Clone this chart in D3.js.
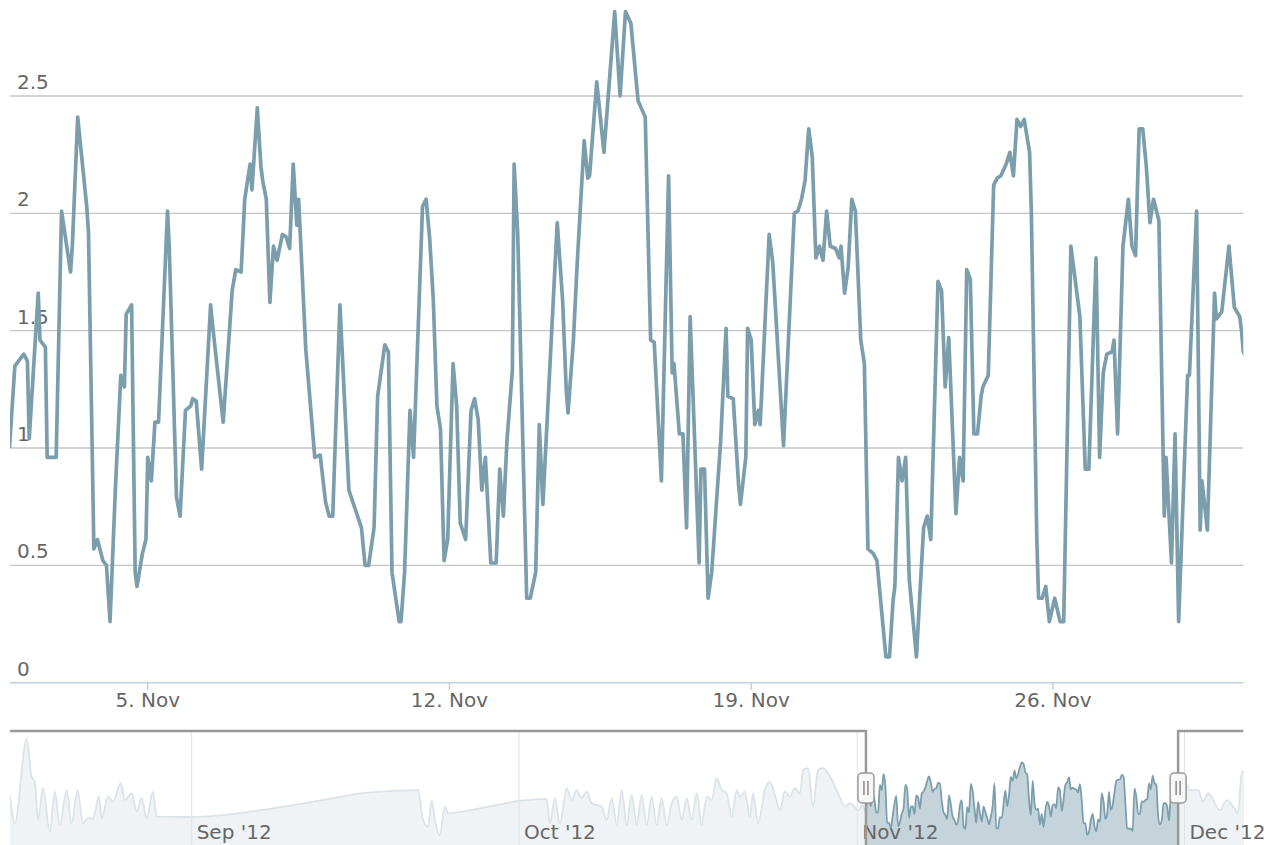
<!DOCTYPE html>
<html>
<head>
<meta charset="utf-8">
<script src="https://cdn.jsdelivr.net/npm/d3@7"></script>
<style>
  body { margin: 0; background: #fff; }
  svg { display: block; font-family: 'DejaVu Sans', Verdana, sans-serif; }
</style>
</head>
<body>
<div id="chart"></div>
<script>
// main series: hours after 1 Nov 2012 00:00 UTC and the reading at that hour
var hours = [
  19, 22, 23, 26, 27, 29, 30, 35, 36, 39,
  40, 45, 48, 53, 54, 57, 62, 63, 66, 68,
  71, 73, 75, 78, 81, 83, 84, 87, 89, 90,
  93, 95, 96, 98, 100, 102, 107, 108, 112, 114,
  117, 120, 121, 123, 126, 131, 132, 138, 143, 145,
  148, 150, 153, 154, 157, 159, 160, 162, 164, 166,
  168, 171, 173, 175, 177, 179, 180, 184, 189, 192,
  195, 197, 199, 203, 208, 215, 217, 219, 222, 224,
  228, 230, 232, 236, 237, 239, 242, 244, 249, 251,
  253, 255, 257, 259, 261, 263, 266, 268, 270, 273,
  276, 278, 280, 282, 284, 285, 287, 290, 292, 294,
  296, 299, 300, 302, 307, 309, 312, 314, 316, 324,
  327, 329, 330, 333, 335, 339, 341, 342, 346, 350,
  356, 359, 362, 365, 369, 373, 376, 378, 382, 386,
  388, 389, 392, 394, 396, 398, 403, 404, 406, 408,
  410, 415, 418, 419, 422, 425, 426, 429, 430, 432,
  433, 434, 436, 437, 442, 444, 450, 456, 458, 460,
  462, 464, 466, 468, 470, 472, 474, 476, 479, 481,
  482, 484, 486, 488, 490, 493, 495, 497, 500, 502,
  507, 509, 511, 512, 514, 516, 518, 520, 524, 526,
  528, 530, 532, 536, 538, 540, 542, 546, 548, 550,
  552, 554, 556, 558, 560, 561, 564, 567, 569, 571,
  574, 576, 578, 580, 582, 584, 587, 588, 591, 592,
  594, 596, 598, 601, 604, 606, 610, 615, 618, 620,
  624, 626, 628, 630, 633, 634, 636, 639, 642, 644,
  646, 648, 650, 652, 654, 656, 659, 662, 663, 666,
  668, 670, 675, 676, 680, 682, 683, 686, 690, 691,
  694, 698, 701, 704, 705, 706, 708
]
var values = [
  1.00, 1.35, 1.36, 1.39, 1.40, 1.37, 1.04, 1.66, 1.46, 1.43,
  0.96, 0.96, 2.01, 1.75, 1.86, 2.41, 2.03, 1.92, 0.57, 0.61,
  0.52, 0.50, 0.26, 0.83, 1.31, 1.26, 1.57, 1.61, 0.47, 0.41,
  0.55, 0.61, 0.96, 0.86, 1.11, 1.11, 2.01, 1.85, 0.79, 0.71,
  1.16, 1.18, 1.21, 1.20, 0.91, 1.61, 1.53, 1.11, 1.67, 1.76,
  1.75, 2.06, 2.21, 2.10, 2.45, 2.20, 2.14, 2.06, 1.62, 1.86,
  1.80, 1.91, 1.90, 1.85, 2.21, 1.95, 2.06, 1.42, 0.96, 0.97,
  0.77, 0.71, 0.71, 1.61, 0.82, 0.66, 0.50, 0.50, 0.66, 1.22,
  1.44, 1.41, 0.47, 0.26, 0.26, 0.47, 1.16, 0.96, 2.03, 2.06,
  1.89, 1.63, 1.18, 1.08, 0.52, 0.61, 1.36, 1.18, 0.68, 0.61,
  1.16, 1.21, 1.12, 0.82, 0.96, 0.81, 0.51, 0.51, 0.91, 0.71,
  1.03, 1.33, 2.21, 1.91, 0.36, 0.36, 0.47, 1.10, 0.76, 1.96,
  1.63, 1.25, 1.15, 1.46, 1.77, 2.31, 2.15, 2.16, 2.56, 2.26,
  2.86, 2.50, 2.86, 2.81, 2.48, 2.41, 1.46, 1.45, 0.86, 2.16,
  1.32, 1.36, 1.06, 1.06, 0.66, 1.56, 0.51, 0.91, 0.91, 0.36,
  0.47, 1.03, 1.51, 1.22, 1.21, 0.84, 0.76, 0.96, 1.51, 1.46,
  1.28, 1.10, 1.16, 1.10, 1.91, 1.79, 1.01, 2.00, 2.01, 2.06,
  2.14, 2.36, 2.24, 1.81, 1.86, 1.80, 2.01, 1.86, 1.85, 1.81,
  1.86, 1.66, 1.77, 2.06, 2.01, 1.46, 1.36, 0.57, 0.55, 0.52,
  0.11, 0.11, 0.35, 0.41, 0.96, 0.86, 0.96, 0.44, 0.11, 0.39,
  0.66, 0.71, 0.61, 1.71, 1.67, 1.26, 1.47, 0.72, 0.96, 0.86,
  1.76, 1.72, 1.06, 1.06, 1.22, 1.26, 1.31, 2.12, 2.15, 2.16,
  2.21, 2.26, 2.16, 2.40, 2.37, 2.40, 2.26, 2.00, 0.62, 0.36,
  0.36, 0.41, 0.26, 0.36, 0.26, 0.26, 1.86, 1.56, 0.91, 0.91,
  1.81, 0.96, 1.32, 1.40, 1.41, 1.46, 1.06, 1.86, 2.06, 1.86,
  1.82, 2.36, 2.36, 2.20, 1.96, 2.06, 1.97, 0.71, 0.96, 0.51,
  1.06, 0.26, 1.31, 1.31, 2.01, 0.65, 0.86, 0.65, 1.66, 1.55,
  1.58, 1.86, 1.60, 1.56, 1.50, 1.41, 1.38
]

// the rest of the series, only seen in the navigator
var earlyHours = [
  -1864, -1853, -1827, -1816, -1809, -1802, -1791, -1776, -1765, -1754,
  -1739, -1728, -1715, -1703, -1694, -1681, -1668, -1662, -1648, -1637,
  -1620, -1611, -1596, -1585, -1574, -1563, -1549, -1541, -1464, -1299,
  -1226, -1153, -1079, -966, -955, -944, -936, -929, -918, -907,
  -900, -830, -744, -683, -676, -665, -654, -639, -628, -617,
  -606, -595, -584, -562, -551, -540, -529, -518, -507, -496,
  -485, -474, -463, -452, -441, -430, -419, -408, -397, -386,
  -375, -364, -353, -342, -331, -320, -309, -298, -287, -276,
  -265, -258, -247, -236, -229, -218, -203, -192, -181, -170,
  -159, -148, -137, -126, -119, -108, -97, -86, -75, -64,
  -53, -42, -27, -16, 3, 12
]
var earlyValues = [
  1.62, 0.56, 3.74, 2.32, 2.13, 0.68, 1.88, 0.23, 1.75, 0.49,
  1.81, 0.55, 1.81, 0.55, 0.74, 0.74, 1.56, 0.74, 1.56, 1.37,
  2.07, 1.43, 1.69, 0.99, 1.50, 0.74, 1.75, 0.80, 0.79, 1.08,
  1.28, 1.50, 1.71, 1.81, 0.68, 0.42, 1.43, 0.68, 0.10, 1.18,
  0.93, 1.12, 1.40, 1.48, 0.55, 1.50, 0.55, 1.88, 1.43, 1.81,
  1.50, 1.75, 1.31, 1.18, 0.68, 1.50, 0.49, 1.81, 0.49, 1.62,
  0.49, 1.62, 0.49, 1.56, 0.49, 1.50, 0.49, 1.31, 1.56, 0.68,
  1.50, 0.68, 1.69, 0.49, 1.56, 1.43, 2.26, 1.81, 1.69, 0.80,
  1.81, 1.56, 1.75, 0.80, 1.69, 0.55, 1.81, 2.13, 1.62, 1.05,
  1.75, 1.56, 1.88, 1.69, 2.57, 2.64, 1.18, 2.57, 2.64, 2.45,
  2.10, 1.69, 1.18, 1.31, 1.05, 1.25
]
var lateHours = [721, 732, 750, 761, 772, 798, 813, 827, 838, 846, 852]
var lateValues = [2.13, 1.81, 1.81, 1.37, 1.69, 1.05, 1.43, 1.18, 0.93, 2.51, 2.45]

var yTicks = [0, 0.5, 1, 1.5, 2, 2.5]

var base = Date.UTC(2012, 10, 1)
var viewStart = new Date(Date.UTC(2012, 10, 1, 19, 18))
var viewEnd = new Date(Date.UTC(2012, 10, 30, 10, 0))
var navStart = new Date(Date.UTC(2012, 7, 15, 8, 24))
var navEnd = new Date(Date.UTC(2012, 11, 6, 9, 24))

function toPoints(hs, vs) {
  return hs.map((h, i) => ({ date: new Date(base + h * 36e5), value: vs[i] }))
}

var mainData = toPoints(hours, values)

// navigator groups the dense part into 4 hour averages, like the stock chart does
var grouped = d3
  .rollups(
    hours.map((h, i) => [h, values[i]]),
    v => d3.mean(v, d => d[1]),
    d => Math.floor(d[0] / 4) * 4
  )
  .map(g => ({ date: new Date(base + (g[0] + 2) * 36e5), value: g[1] }))

var navData = toPoints(earlyHours, earlyValues)
  .concat(grouped)
  .concat(toPoints(lateHours, lateValues))

var width = 1270
var height = 845
var plot = { left: 10, right: 1243.3, bottom: 682.7 }
var nav = { top: 731, bottom: 850, zero: 837.8 }
var lineColor = '#7b9ead'
var labelColor = '#666'

var svg = d3
  .select('#chart')
  .append('svg')
  .attr('width', width)
  .attr('height', height)

var x = d3.scaleUtc().domain([viewStart, viewEnd]).range([plot.left, plot.right])
var y = d3.scaleLinear().domain([0, 2.5]).range([plot.bottom, 96])

var xNav = d3.scaleUtc().domain([navStart, navEnd]).range([plot.left, plot.right])
var yNav = d3.scaleLinear().domain([0, 4]).range([nav.zero, nav.zero - 4 * 26.36])

var defs = svg.append('defs')
defs
  .append('clipPath')
  .attr('id', 'clip-main')
  .append('rect')
  .attr('x', plot.left)
  .attr('y', 0)
  .attr('width', plot.right - plot.left)
  .attr('height', plot.bottom)
defs
  .append('clipPath')
  .attr('id', 'clip-nav')
  .append('rect')
  .attr('x', plot.left)
  .attr('y', nav.top)
  .attr('width', plot.right - plot.left)
  .attr('height', nav.bottom - nav.top)

// horizontal grid
svg
  .selectAll('.grid')
  .data(yTicks.filter(d => d > 0))
  .enter()
  .append('line')
  .attr('class', 'grid')
  .attr('x1', plot.left)
  .attr('x2', plot.right)
  .attr('y1', d => y(d))
  .attr('y2', d => y(d))
  .attr('stroke', '#c6c6c6')
  .attr('stroke-width', 1.3)

svg
  .selectAll('.y-label')
  .data(yTicks)
  .enter()
  .append('text')
  .attr('class', 'y-label')
  .attr('x', 17)
  .attr('y', d => y(d) - 7)
  .attr('font-size', 20)
  .attr('fill', labelColor)
  .text(d => d)

// x axis
svg
  .append('line')
  .attr('x1', plot.left)
  .attr('x2', plot.right)
  .attr('y1', plot.bottom)
  .attr('y2', plot.bottom)
  .attr('stroke', '#c0d0e0')
  .attr('stroke-width', 1.5)

var xTicks = x.ticks(d3.utcMonday.every(1))
svg
  .selectAll('.x-tick')
  .data(xTicks)
  .enter()
  .append('line')
  .attr('class', 'x-tick')
  .attr('x1', d => x(d))
  .attr('x2', d => x(d))
  .attr('y1', plot.bottom)
  .attr('y2', plot.bottom + 7)
  .attr('stroke', '#c0d0e0')
  .attr('stroke-width', 1.5)

svg
  .selectAll('.x-label')
  .data(xTicks)
  .enter()
  .append('text')
  .attr('class', 'x-label')
  .attr('x', d => x(d))
  .attr('y', 706.7)
  .attr('text-anchor', 'middle')
  .attr('font-size', 20)
  .attr('fill', labelColor)
  .text(d3.utcFormat('%-d. %b'))

// main line
var line = d3
  .line()
  .x(d => x(d.date))
  .y(d => y(d.value))

svg
  .append('path')
  .datum(mainData)
  .attr('clip-path', 'url(#clip-main)')
  .attr('d', line)
  .attr('fill', 'none')
  .attr('stroke', lineColor)
  .attr('stroke-width', 3.7)
  .attr('stroke-linejoin', 'round')

// navigator
var navArea = d3
  .area()
  .curve(d3.curveMonotoneX)
  .x(d => xNav(d.date))
  .y0(nav.bottom)
  .y1(d => yNav(d.value))

var navLine = d3
  .line()
  .curve(d3.curveMonotoneX)
  .x(d => xNav(d.date))
  .y(d => yNav(d.value))

var navG = svg.append('g').attr('clip-path', 'url(#clip-nav)')

navG
  .append('path')
  .datum(navData)
  .attr('d', navArea)
  .attr('fill', lineColor)
  .attr('fill-opacity', 0.44)

navG
  .append('path')
  .datum(navData)
  .attr('d', navLine)
  .attr('fill', 'none')
  .attr('stroke', lineColor)
  .attr('stroke-width', 1.8)

var hl = xNav(viewStart)
var hr = xNav(viewEnd)

navG
  .selectAll('.mask')
  .data([[plot.left, hl], [hr, plot.right]])
  .enter()
  .append('rect')
  .attr('class', 'mask')
  .attr('x', d => d[0])
  .attr('width', d => d[1] - d[0])
  .attr('y', nav.top)
  .attr('height', nav.bottom - nav.top)
  .attr('fill', 'white')
  .attr('fill-opacity', 0.72)

var monthTicks = xNav.ticks(d3.utcMonth.every(1))
navG
  .selectAll('.nav-grid')
  .data(monthTicks)
  .enter()
  .append('line')
  .attr('class', 'nav-grid')
  .attr('x1', d => xNav(d))
  .attr('x2', d => xNav(d))
  .attr('y1', nav.top)
  .attr('y2', nav.bottom)
  .attr('stroke', '#e2e2e2')
  .attr('stroke-width', 1)

svg
  .selectAll('.nav-label')
  .data(monthTicks)
  .enter()
  .append('text')
  .attr('class', 'nav-label')
  .attr('x', d => xNav(d) + 5)
  .attr('y', 839)
  .attr('font-size', 20)
  .attr('fill', labelColor)
  .text(d3.utcFormat("%b '%y"))

svg
  .append('path')
  .attr(
    'd',
    'M' + plot.left + ',' + nav.top + 'H' + hl + 'V' + nav.bottom +
    'M' + hr + ',' + nav.bottom + 'V' + nav.top + 'H' + plot.right
  )
  .attr('fill', 'none')
  .attr('stroke', '#999')
  .attr('stroke-width', 2.5)

var handles = svg
  .selectAll('.handle')
  .data([hl, hr])
  .enter()
  .append('g')
  .attr('class', 'handle')
  .attr('transform', d => 'translate(' + d + ',788)')

handles
  .append('rect')
  .attr('x', -8)
  .attr('y', -15)
  .attr('width', 16)
  .attr('height', 30)
  .attr('rx', 4)
  .attr('fill', '#f7f7f7')
  .attr('stroke', '#999')
  .attr('stroke-width', 1.5)

handles
  .selectAll('.grip')
  .data([-2, 2])
  .enter()
  .append('line')
  .attr('x1', d => d)
  .attr('x2', d => d)
  .attr('y1', -7)
  .attr('y2', 7)
  .attr('stroke', '#777')
  .attr('stroke-width', 1.3)
</script>
</body>
</html>
